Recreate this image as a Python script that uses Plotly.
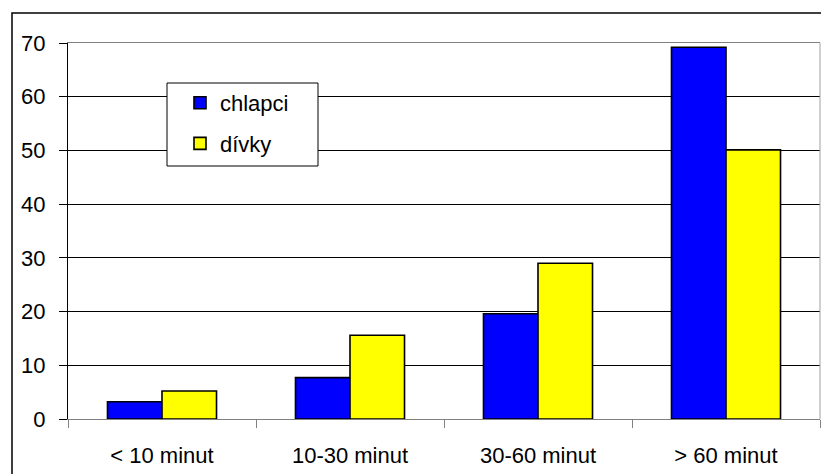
import plotly.graph_objects as go

categories = ["< 10 minut", "10-30 minut", "30-60 minut", "> 60 minut"]
chlapci = [3.2, 7.7, 19.6, 69.2]
divky = [5.2, 15.6, 29.0, 50.1]
series_names = ["chlapci", "dívky"]
y_ticks = [0, 10, 20, 30, 40, 50, 60, 70]

FONT = "Liberation Sans, Arial, sans-serif"
PL, PT, PW, PH = 68, 43, 752, 376  # plot area in pixels


def px_x(x):
    return (x - PL) / PW


def px_y(y):
    return (PT + PH - y) / PH


fig = go.Figure()
fig.add_trace(go.Bar(x=categories, y=chlapci, name=series_names[0], legendgroup="a",
                     marker=dict(color="#0000FF", line=dict(color="black", width=1.6))))
fig.add_trace(go.Bar(x=categories, y=divky, name=series_names[1], legendgroup="b",
                     marker=dict(color="#FFFF00", line=dict(color="black", width=1.6))))

fig.update_layout(
    width=821, height=474,
    margin=dict(l=PL, r=821 - PL - PW, t=PT, b=474 - PT - PH),
    paper_bgcolor="white", plot_bgcolor="white",
    font=dict(family=FONT, size=22, color="black"),
    barmode="group", bargap=0.42, bargroupgap=0,
    showlegend=True,
    legend=dict(x=px_x(180), y=px_y(82), xanchor="left", yanchor="top",
                bgcolor="rgba(0,0,0,0)", borderwidth=0,
                font=dict(family=FONT, size=22), tracegroupgap=9,
                traceorder="grouped"),
)
fig.update_xaxes(
    type="category", showgrid=False, showline=True, linecolor="#808080", linewidth=1,
    mirror=True, ticks="outside", tickson="boundaries", ticklen=8, tickcolor="#808080",
    ticklabelstandoff=17, zeroline=False,
)
fig.update_yaxes(
    range=[0, 70], tickvals=y_ticks, showgrid=True, gridcolor="black", gridwidth=1,
    showline=True, linecolor="black", linewidth=1, ticks="outside", ticklen=8,
    tickcolor="black", ticklabelstandoff=9, zeroline=False,
)
# right plot-area border (gray)
fig.add_shape(type="line", xref="paper", yref="paper", x0=1, x1=1, y0=0, y1=1,
              line=dict(color="#a0a0a0", width=1))
# legend box
fig.add_shape(type="rect", xref="paper", yref="paper",
              x0=px_x(167), x1=px_x(318), y0=px_y(166), y1=px_y(83),
              line=dict(color="black", width=1), fillcolor="white", layer="above")
# outer chart frame
fig.add_shape(type="rect", xref="paper", yref="paper",
              x0=px_x(12), x1=1.2, y0=-0.3, y1=px_y(13),
              line=dict(color="black", width=1.5), fillcolor="rgba(0,0,0,0)", layer="above")

fig.write_html("out.html", config={"displayModeBar": False},
               post_script="document.body.style.margin='0';")
